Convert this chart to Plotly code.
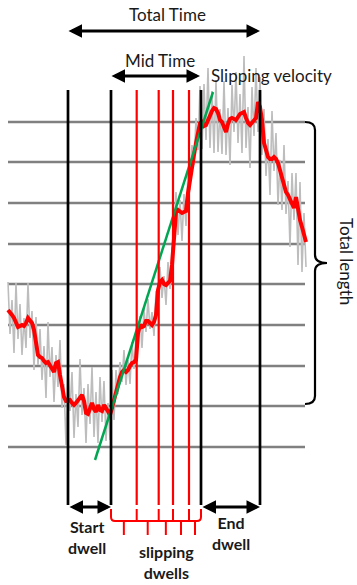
import plotly.graph_objects as go

# ---- data (time axis in px-like units, position axis downward) ----
time = list(range(8, 308, 2))
smoothed = [310, 312, 315, 318, 323, 327, 326, 325, 326, 323, 318, 320, 323, 330, 342, 355, 357, 358, 361, 363,
            362, 365, 369, 372, 363, 362, 375, 388, 397, 401, 401, 400, 403, 405, 403, 400, 397, 395, 401, 413,
            414, 409, 403, 409, 412, 405, 410, 411, 405, 408, 412, 415, 408, 400, 390, 382, 377, 372, 370, 372,
            370, 366, 363, 362, 360, 333, 325, 327, 326, 321, 321, 323, 325, 322, 315, 290, 282, 280, 284, 285,
            283, 281, 265, 230, 212, 210, 212, 213, 212, 211, 193, 178, 163, 155, 143, 130, 123, 122, 126, 125,
            120, 115, 111, 108, 109, 113, 120, 122, 127, 132, 124, 119, 118, 119, 120, 117, 114, 113, 112, 118,
            123, 125, 123, 120, 118, 102, 107, 120, 143, 150, 157, 159, 159, 157, 159, 163, 170, 180, 187, 192,
            195, 199, 203, 208, 197, 210, 220, 227, 233, 242]
raw = [282, 334, 300, 353, 283, 339, 304, 355, 318, 348, 283, 338, 311, 370, 317, 365, 329, 380, 346, 398,
       322, 377, 347, 402, 355, 387, 340, 408, 384, 445, 373, 411, 372, 438, 394, 427, 359, 415, 388, 443,
       384, 424, 367, 437, 392, 443, 377, 422, 381, 441, 403, 440, 370, 420, 370, 394, 362, 382, 350, 385,
       360, 384, 342, 369, 336, 348, 316, 348, 309, 332, 299, 329, 312, 336, 291, 302, 267, 298, 276, 305,
       262, 289, 248, 243, 192, 235, 200, 241, 194, 226, 171, 190, 145, 165, 118, 150, 86, 149, 84, 140,
       68, 148, 91, 153, 80, 152, 109, 154, 81, 155, 108, 165, 85, 132, 72, 143, 94, 153, 56, 148,
       107, 168, 87, 136, 68, 132, 77, 155, 109, 176, 139, 195, 111, 171, 133, 205, 160, 210, 145, 214,
       181, 247, 173, 220, 173, 265, 182, 272, 213, 267]

grid_levels = [122, 162, 203, 244, 284, 325, 366, 406, 447]
grid_span = [8, 305]
dwell_bounds = [68, 111, 201, 260]           # black: start dwell / mid / end dwell
slip_bounds = [136.7, 158.7, 173, 189]       # red: slipping dwell boundaries
marker_span = [90, 505]
fit_time = [95, 213]
fit_pos = [460, 92]

fig = go.Figure()

shapes = []
for g in grid_levels:
    shapes.append(dict(type="line", x0=grid_span[0], x1=grid_span[1], y0=g, y1=g,
                       line=dict(color="#808080", width=2.5), layer="below"))

fig.add_trace(go.Scatter(x=time, y=raw, mode="lines", line=dict(color="#bdbdbd", width=1.6),
                         hoverinfo="skip", showlegend=False))
fig.add_trace(go.Scatter(x=time, y=smoothed, mode="lines", line=dict(color="#ff0000", width=4),
                         hoverinfo="skip", showlegend=False))
fig.add_trace(go.Scatter(x=fit_time, y=fit_pos, mode="lines", line=dict(color="#00a651", width=2.5),
                         hoverinfo="skip", showlegend=False))

for t in dwell_bounds:
    shapes.append(dict(type="line", x0=t, x1=t, y0=marker_span[0], y1=marker_span[1],
                       line=dict(color="black", width=2.7)))
for t in slip_bounds:
    shapes.append(dict(type="line", x0=t, x1=t, y0=marker_span[0], y1=marker_span[1],
                       line=dict(color="#ff0000", width=2.2)))

# right bracket (total length)
shapes.append(dict(type="path",
                   path="M 305,122 Q 315,122 315,130 L 315,255 Q 315,263 327,263 "
                        "Q 315,263 315,271 L 315,396 Q 315,404 305,404",
                   line=dict(color="black", width=2.2)))

# bottom red braces under slipping dwells
edges = [dwell_bounds[1]] + slip_bounds + [dwell_bounds[2]]
p = "M %g,509 L %g,517 Q %g,521 %g,521 L %g,521 Q %g,521 %g,517 L %g,509" % (
    edges[0], edges[0], edges[0], edges[0] + 4, edges[-1] - 4, edges[-1], edges[-1], edges[-1])
shapes.append(dict(type="path", path=p, line=dict(color="#ff0000", width=2)))
for e in edges[1:-1]:
    shapes.append(dict(type="line", x0=e, x1=e, y0=509, y1=521, line=dict(color="#ff0000", width=2)))
for a, b in zip(edges[:-1], edges[1:]):
    m = (a + b) / 2
    shapes.append(dict(type="line", x0=m, x1=m, y0=521, y1=535, line=dict(color="#ff0000", width=2)))

ann = []
def arrow(x0, x1, y):
    ann.append(dict(x=x1, y=y, ax=x0, ay=y, xref="x", yref="y", axref="x", ayref="y", text="",
                    showarrow=True, arrowhead=2, arrowside="end+start", arrowsize=0.9,
                    arrowwidth=3, arrowcolor="black", standoff=0, startstandoff=0))

arrow(67, 260, 31)
arrow(110, 200, 76)
arrow(68, 111, 507)
arrow(201, 260, 507)

font = dict(family="Lato, Open Sans, sans-serif", size=17, color="#1a1a1a")
bold = dict(family="Lato, Open Sans, sans-serif", size=16, color="#1a1a1a")
def label(x, y, text, f, angle=0):
    ann.append(dict(x=x, y=y, xref="x", yref="y", text=text, showarrow=False, font=f,
                    textangle=angle, xanchor="center", yanchor="middle"))

label(167, 14, "Total Time", font)
label(160, 60, "Mid Time", font)
label(271, 75, "Slipping velocity", font)
label(347, 261, "Total length", font, 90)
label(87, 537, "<b>Start<br>dwell</b>", bold)
label(231, 533, "<b>End<br>dwell</b>", bold)
label(166, 562, "<b>slipping<br>dwells</b>", bold)

fig.update_layout(width=357, height=585, margin=dict(l=0, r=0, t=0, b=0),
                  paper_bgcolor="white", plot_bgcolor="white",
                  shapes=shapes, annotations=ann, showlegend=False,
                  xaxis=dict(range=[0, 357], visible=False, fixedrange=True),
                  yaxis=dict(range=[585, 0], visible=False, fixedrange=True))

fig.write_html("out.html", config={"displayModeBar": False})
